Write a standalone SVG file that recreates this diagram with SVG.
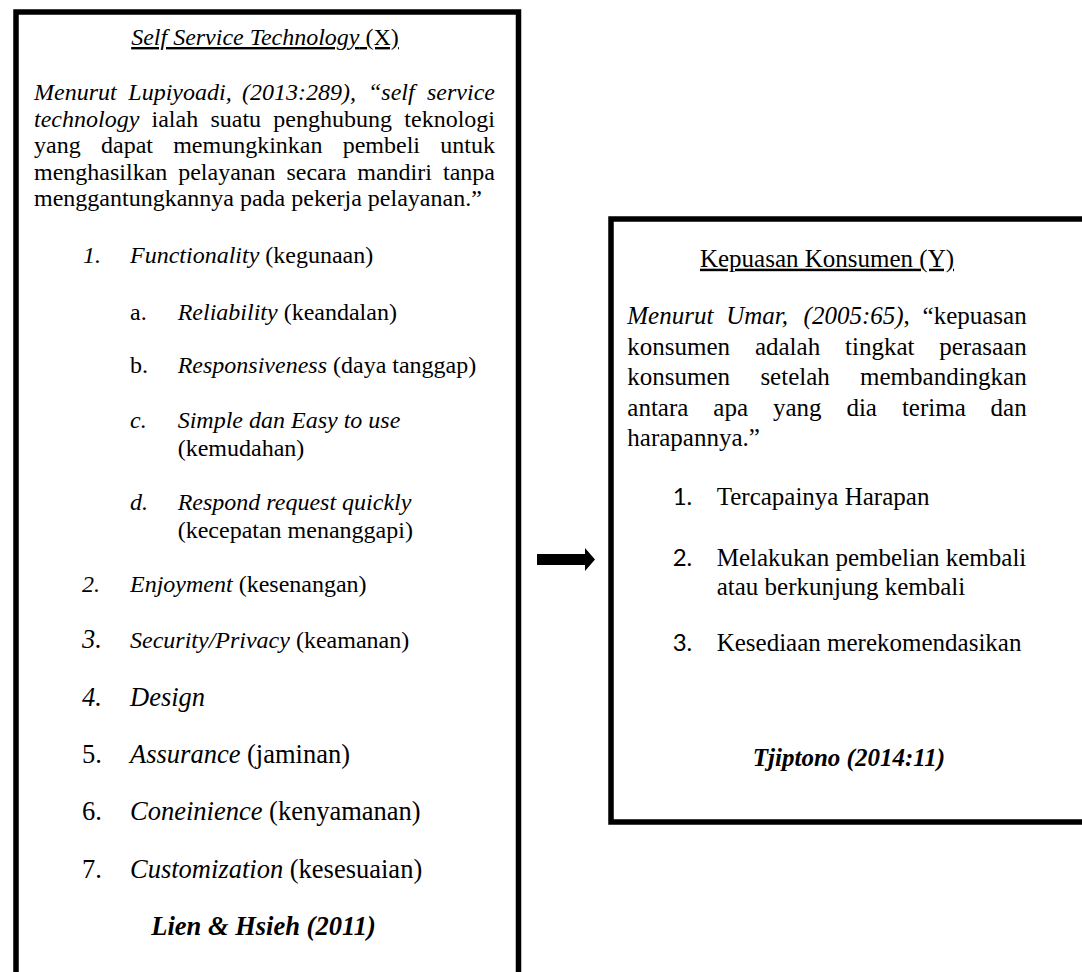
<svg xmlns="http://www.w3.org/2000/svg" width="1082" height="972" viewBox="0 0 1082 972">
<style>
text{font-family:"Liberation Serif","Times New Roman",serif;fill:#000}
.l{font-size:24px}
.r{font-size:25px}
.big{font-size:26.5px}
.i{font-style:italic}
.bi{font-style:italic;font-weight:bold}
.e{text-anchor:end}
.m{text-anchor:middle}
.u{text-decoration:underline}
.num{font-family:Lato,"Liberation Sans",sans-serif;font-size:24px}
.box{fill:#fff;stroke:#000;stroke-width:5.5}
</style>
<rect width="1082" height="972" fill="#fff"/>
<g id="node-x">
<rect class="box" x="16" y="12" width="502.5" height="1000"/>
<text class="l m u" x="265" y="45"><tspan class="i">Self Service Technology</tspan> (X)</text>
<text class="l i" x="34" y="100">Menurut</text>
<text class="l i" x="128.3" y="100">Lupiyoadi,</text>
<text class="l i" x="242" y="100">(2013:289),</text>
<text class="l i" x="368" y="100">“self</text>
<text class="l i e" x="495" y="100">service</text>
<text class="l i" x="34" y="126.5">technology</text>
<text class="l" x="151.5" y="126.5">ialah</text>
<text class="l" x="210.4" y="126.5">suatu</text>
<text class="l" x="273.3" y="126.5">penghubung</text>
<text class="l e" x="495" y="126.5">teknologi</text>
<text class="l" x="34" y="153">yang</text>
<text class="l" x="101" y="153">dapat</text>
<text class="l" x="173.2" y="153">memungkinkan</text>
<text class="l" x="342.7" y="153">pembeli</text>
<text class="l e" x="495" y="153">untuk</text>
<text class="l" x="34" y="179.5">menghasilkan</text>
<text class="l" x="178.2" y="179.5">pelayanan</text>
<text class="l" x="286.4" y="179.5">secara</text>
<text class="l" x="357.3" y="179.5">mandiri</text>
<text class="l e" x="495" y="179.5">tanpa</text>
<text class="l" x="34" y="206">menggantungkannya pada pekerja pelayanan.”</text>

<text class="l i" x="83" y="263">1.</text>
<text class="l" x="130" y="263"><tspan class="i">Functionality</tspan> (kegunaan)</text>
<text class="l" x="130" y="320">a.</text>
<text class="l" x="177.7" y="320"><tspan class="i">Reliability</tspan> (keandalan)</text>
<text class="l" x="130" y="373">b.</text>
<text class="l" x="177.7" y="373"><tspan class="i">Responsiveness</tspan> (daya tanggap)</text>
<text class="l i" x="130" y="428">c.</text>
<text class="l i" x="177.7" y="428">Simple dan Easy to use</text>
<text class="l" x="177.7" y="456">(kemudahan)</text>
<text class="l i" x="130" y="510">d.</text>
<text class="l i" x="177.7" y="510">Respond request quickly</text>
<text class="l" x="177.7" y="537.5">(kecepatan menanggapi)</text>
<text class="l i" x="82" y="592">2.</text>
<text class="l" x="130" y="592"><tspan class="i">Enjoyment</tspan> (kesenangan)</text>
<text class="big i" x="82" y="648">3.</text>
<text class="l" x="130" y="648"><tspan class="i">Security/Privacy</tspan> (keamanan)</text>
<text class="big i" x="82" y="706">4.</text>
<text class="big i" x="130" y="706">Design</text>
<text class="big" x="82" y="763">5.</text>
<text class="big" x="130" y="763"><tspan class="i">Assurance</tspan> (jaminan)</text>
<text class="big" x="82" y="820">6.</text>
<text class="big" x="130" y="820"><tspan class="i">Coneinience</tspan> (kenyamanan)</text>
<text class="big" x="82" y="878">7.</text>
<text class="big" x="130" y="878"><tspan class="i">Customization</tspan> (kesesuaian)</text>
<text class="big bi m" x="263.5" y="935">Lien &amp; Hsieh (2011)</text>
</g>
<g id="node-y">
<rect class="box" x="611" y="219" width="480" height="603"/>
<text class="r m u" x="827" y="266.7">Kepuasan Konsumen (Y)</text>
<text class="r i" x="627.3" y="324">Menurut</text>
<text class="r i" x="726.2" y="324">Umar,</text>
<text class="r" x="803.6" y="324"><tspan class="i">(2005:65)</tspan>,</text>
<text class="r e" x="1026.7" y="324">“kepuasan</text>
<text class="r" x="627.3" y="354.5">konsumen</text>
<text class="r" x="754.9" y="354.5">adalah</text>
<text class="r" x="845" y="354.5">tingkat</text>
<text class="r e" x="1026.7" y="354.5">perasaan</text>
<text class="r" x="627.3" y="385">konsumen</text>
<text class="r" x="760.4" y="385">setelah</text>
<text class="r e" x="1026.7" y="385">membandingkan</text>
<text class="r" x="627.3" y="415.5">antara</text>
<text class="r" x="713.3" y="415.5">apa</text>
<text class="r" x="772.9" y="415.5">yang</text>
<text class="r" x="846.4" y="415.5">dia</text>
<text class="r" x="901.9" y="415.5">terima</text>
<text class="r e" x="1026.7" y="415.5">dan</text>
<text class="r" x="627.3" y="446">harapannya.”</text>
<text class="num" x="672.7" y="505">1.</text>
<text class="r" x="716.7" y="505">Tercapainya Harapan</text>
<text class="num" x="672.7" y="566">2.</text>
<text class="r" x="716.7" y="566">Melakukan pembelian kembali</text>
<text class="r" x="716.7" y="595">atau berkunjung kembali</text>
<text class="num" x="672.7" y="650.5">3.</text>
<text class="r" x="716.7" y="650.5">Kesediaan merekomendasikan</text>
<text class="r bi m" x="849" y="766">Tjiptono (2014:11)</text>
</g>
<g id="connectors">
<polygon points="537,554 585,554 585,548 595,559.5 585,571 585,565 537,565" fill="#000"/>
</g>
</svg>
